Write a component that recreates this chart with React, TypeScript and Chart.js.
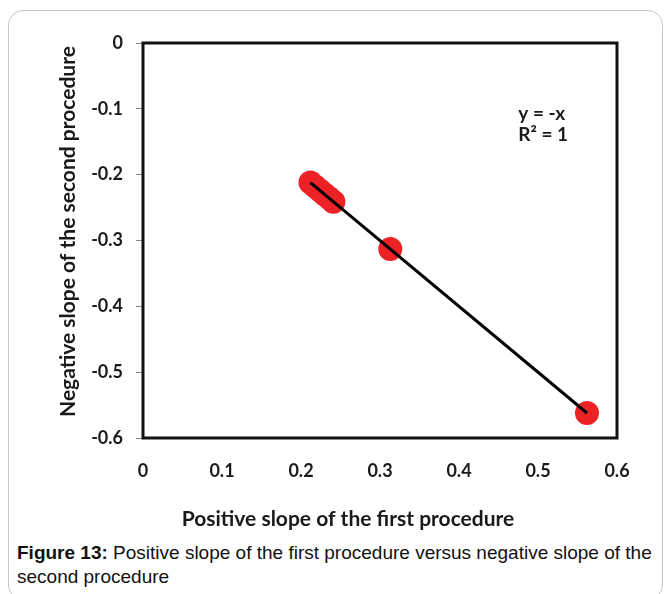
import React, { useEffect, useRef } from "react";
import { Chart, registerables } from "chart.js";

Chart.register(...registerables);

const firstSlopes = [0.212, 0.218, 0.224, 0.23, 0.236, 0.241, 0.313, 0.562];
const secondSlopes = [-0.212, -0.218, -0.224, -0.23, -0.236, -0.241, -0.313, -0.562];
const trendX = [0.212, 0.562];
const trendY = [-0.212, -0.562];
const xTickValues = [0, 0.1, 0.2, 0.3, 0.4, 0.5, 0.6];
const xTickLabels = ["0", "0.1", "0.2", "0.3", "0.4", "0.5", "0.6"];
const yTickValues = [0, -0.1, -0.2, -0.3, -0.4, -0.5, -0.6];
const yTickLabels = ["0", "-0.1", "-0.2", "-0.3", "-0.4", "-0.5", "-0.6"];
const equationLines = ["y = -x", "R² = 1"];
const xTitle = "Positive slope of the first procedure";
const yTitle = "Negative slope of the second procedure";

const FONT = "Lato, 'DejaVu Sans', sans-serif";
const TEXT = "#1a1a1a";

const boxPlugin = {
  id: "boxPlugin",
  afterDatasetsDraw(chart: any) {
    const { ctx, chartArea } = chart;
    ctx.save();
    ctx.strokeStyle = "#111";
    ctx.lineWidth = 3;
    ctx.strokeRect(chartArea.left, chartArea.top, chartArea.right - chartArea.left, chartArea.bottom - chartArea.top);
    ctx.restore();
  },
};

const textPlugin = {
  id: "textPlugin",
  afterDraw(chart: any) {
    const { ctx, scales, chartArea } = chart;
    ctx.save();
    ctx.fillStyle = TEXT;
    ctx.textBaseline = "middle";
    // equation
    ctx.font = `bold 19px ${FONT}`;
    ctx.textAlign = "left";
    const ex = scales.x.getPixelForValue(0.475);
    ctx.fillText(equationLines[0], ex, scales.y.getPixelForValue(-0.108));
    ctx.fillText(equationLines[1], ex, scales.y.getPixelForValue(-0.139));
    // axis titles
    ctx.font = `bold 21px ${FONT}`;
    ctx.textAlign = "center";
    ctx.fillText(xTitle, chartArea.left + 205, chartArea.bottom + 81);
    ctx.translate(chartArea.left - 75, (chartArea.top + chartArea.bottom) / 2 - 9);
    ctx.rotate(-Math.PI / 2);
    ctx.fillText(yTitle, 0, 0);
    ctx.restore();
  },
};

export default function App() {
  const ref = useRef<HTMLCanvasElement | null>(null);
  useEffect(() => {
    if (!ref.current) return;
    const chart = new Chart(ref.current, {
      type: "scatter",
      data: {
        datasets: [
          {
            type: "line",
            data: trendX.map((x, i) => ({ x, y: trendY[i] })),
            borderColor: "#000",
            borderWidth: 3,
            pointRadius: 0,
            fill: false,
            order: 0,
          } as any,
          {
            data: firstSlopes.map((x, i) => ({ x, y: secondSlopes[i] })),
            backgroundColor: "#ec2226",
            borderColor: "#ec2226",
            borderWidth: 0,
            pointRadius: 12,
            order: 1,
          },
        ],
      },
      options: {
        animation: false,
        responsive: false,
        events: [],
        layout: { padding: { left: 0, top: 43, right: 48, bottom: 0 } },
        plugins: { legend: { display: false }, tooltip: { enabled: false } },
        scales: {
          x: {
            type: "linear",
            min: 0,
            max: 0.6,
            afterBuildTicks: (s: any) => {
              s.ticks = xTickValues.map((v) => ({ value: v }));
            },
            afterFit: (s: any) => {
              s.height = 102;
            },
            ticks: {
              padding: 14,
              color: TEXT,
              font: { family: FONT, size: 18, weight: "bold" },
              callback: (_v: any, i: number) => xTickLabels[i],
              maxRotation: 0,
            },
            grid: { display: false },
            border: { display: false },
          },
          y: {
            type: "linear",
            min: -0.6,
            max: 0,
            afterBuildTicks: (s: any) => {
              s.ticks = yTickValues.map((v) => ({ value: v }));
            },
            afterFit: (s: any) => {
              s.width = 143;
            },
            ticks: {
              padding: 13,
              color: TEXT,
              font: { family: FONT, size: 18, weight: "bold" },
              callback: (_v: any, i: number) => yTickLabels[i],
            },
            grid: { drawOnChartArea: false, drawTicks: true, tickLength: 7, color: "#888", lineWidth: 1 },
            border: { display: false },
          },
        },
      },
      plugins: [boxPlugin, textPlugin],
    } as any);
    return () => chart.destroy();
  }, []);

  return (
    <div style={{ position: "fixed", left: 0, top: 0, width: 665, height: 594, overflow: "hidden", background: "#fff" }}>
      <div
        style={{
          position: "absolute",
          left: 8,
          top: 10,
          width: 655,
          height: 590,
          border: "1px solid #c4c4c4",
          borderRadius: 15,
          boxSizing: "border-box",
        }}
      />
      <canvas ref={ref} width={665} height={540} style={{ position: "absolute", left: 0, top: 0 }} />
      <div
        style={{
          position: "absolute",
          left: 17,
          top: 541,
          width: 645,
          fontFamily: "'Liberation Sans', Arial, sans-serif",
          fontSize: 19,
          lineHeight: "24px",
          color: "#111",
        }}
      >
        <b>Figure 13:</b> Positive slope of the first procedure versus negative slope of the second procedure
      </div>
    </div>
  );
}
